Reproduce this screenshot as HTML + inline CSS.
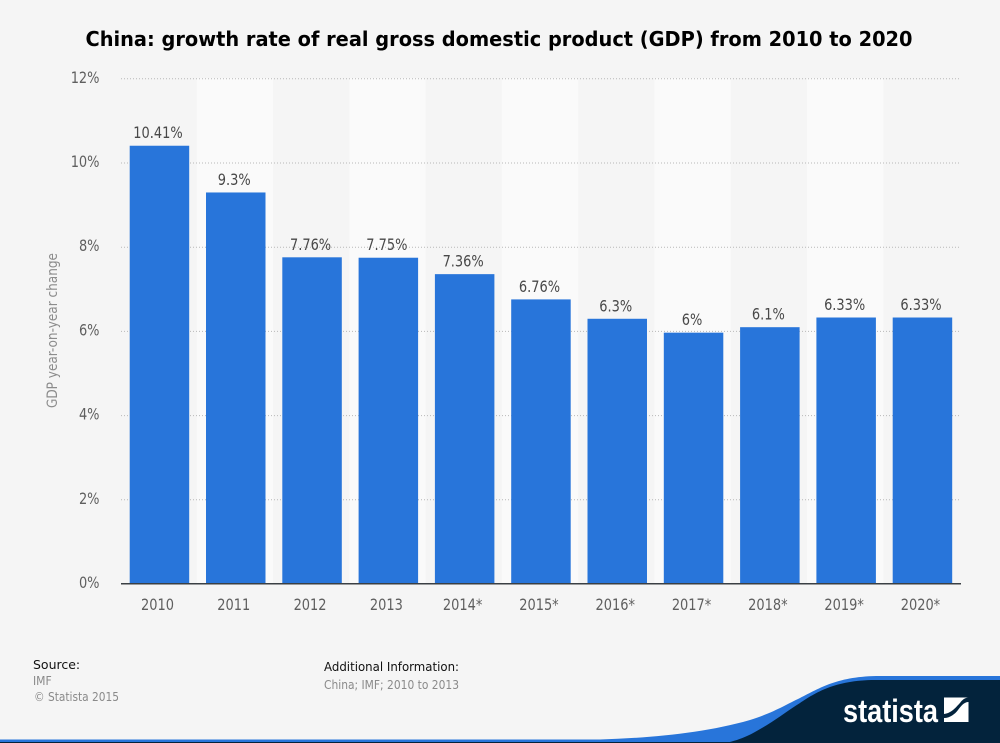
<!DOCTYPE html>
<html>
<head>
<meta charset="utf-8">
<style>
html,body{margin:0;padding:0;background:#f5f5f5}
svg{display:block}
text{font-family:"DejaVu Sans Condensed","DejaVu Sans","Liberation Sans",sans-serif;font-stretch:condensed}
</style>
</head>
<body>
<svg id="chart" xmlns="http://www.w3.org/2000/svg" width="1000" height="743" viewBox="0 0 1000 743">
<rect x="0" y="0" width="1000" height="743" fill="#f5f5f5"/>
<text x="499" y="46" text-anchor="middle" font-size="20.5" font-weight="700" fill="#000" style="font-family:'DejaVu Sans',sans-serif;font-stretch:normal" textLength="827" lengthAdjust="spacingAndGlyphs">China: growth rate of real gross domestic product (GDP) from 2010 to 2020</text>
<g id="bands"></g>
<g id="grid"></g>
<g id="bars"></g>
<g id="labels"></g>
<g id="yticks"></g>
<g id="xticks"></g>
<line x1="121" x2="961" y1="583.8" y2="583.8" stroke="#3a3f44" stroke-width="1.5"/>
<text transform="translate(57,330.5) rotate(-90)" text-anchor="middle" font-size="14" fill="#8c8c8c" textLength="155" lengthAdjust="spacingAndGlyphs">GDP year-on-year change</text>

<text x="33" y="669" font-size="12.5" fill="#111" style="font-family:'DejaVu Sans',sans-serif;font-stretch:normal">Source:</text>
<text x="33" y="685" font-size="12" fill="#8a8a8a">IMF</text>
<text x="34" y="701" font-size="12" fill="#8a8a8a" style="font-family:'DejaVu Sans',sans-serif;font-stretch:normal" textLength="85" lengthAdjust="spacingAndGlyphs">© Statista 2015</text>
<text x="324" y="671" font-size="12.5" fill="#111" style="font-family:'DejaVu Sans',sans-serif;font-stretch:normal" textLength="135" lengthAdjust="spacingAndGlyphs">Additional Information:</text>
<text x="324" y="689" font-size="12" fill="#8a8a8a" style="font-family:'DejaVu Sans',sans-serif;font-stretch:normal" textLength="135" lengthAdjust="spacingAndGlyphs">China; IMF; 2010 to 2013</text>

<g>
<path d="M0,743 L0,739.5 L600,739.5 C650,738 705,733 750,720 C775,712 785,705 800,698 C820,688 838,676 880,676 L1000,676 L1000,743 Z" fill="#2875da"/>
<path d="M725,743 C745,739 755,732 767,725 C780,717 790,709 800,703 C815,693 835,680 875,680 L1000,680 L1000,743 Z" fill="#03233c"/>
<rect x="0" y="742" width="1000" height="1" fill="#03233c"/>
<text x="843" y="722" font-size="32" font-weight="700" fill="#fff" textLength="95" lengthAdjust="spacingAndGlyphs" style="font-family:'Liberation Sans',sans-serif;font-stretch:normal">statista</text>
<g>
<rect x="944" y="697.5" width="24.5" height="24.5" fill="#fff"/>
<path d="M944,714 C952,713 956,707 960,703 C962,700 965,697.5 968.5,697.5 L968.5,702 C964,702 961,706 958,710 C955,714 950,718 944,718 Z" fill="#03233c"/>
</g>
</g>
</svg>
<script>
const categories = ["2010","2011","2012","2013","2014*","2015*","2016*","2017*","2018*","2019*","2020*"];
const seriesValues = [10.41,9.3,7.76,7.75,7.36,6.76,6.3,5.97,6.1,6.33,6.33];
const valueLabels = ["10.41%","9.3%","7.76%","7.75%","7.36%","6.76%","6.3%","6%","6.1%","6.33%","6.33%"];
const yTickValues = [0,2,4,6,8,10,12];
const yTickLabels = ["0%","2%","4%","6%","8%","10%","12%"];

const NS = "http://www.w3.org/2000/svg";
const plotLeft = 120.4, plotRight = 961, plotBottom = 584, plotTop = 78.8;
const yMax = 12;
const step = 76.3;
const barWidth = 59.5;
const barOffset = 0.9;
function yScale(v){ return plotBottom - (v / yMax) * (plotBottom - plotTop); }
function xBand(i){ return plotLeft + i * step; }
function xCenter(i){ return xBand(i) + step / 2 + barOffset; }
function make(tag, attrs, parent, text){
  const el = document.createElementNS(NS, tag);
  for (const k in attrs) el.setAttribute(k, attrs[k]);
  if (text !== undefined) el.textContent = text;
  parent.appendChild(el);
  return el;
}
function squeeze(el){
  el.setAttribute("textLength", el.getComputedTextLength() * 0.9);
  el.setAttribute("lengthAdjust", "spacingAndGlyphs");
}
const bandsG = document.getElementById("bands");
const gridG = document.getElementById("grid");
const barsG = document.getElementById("bars");
const labelsG = document.getElementById("labels");
const yG = document.getElementById("yticks");
const xG = document.getElementById("xticks");

categories.forEach(function(c, i){
  if (i % 2 === 1) {
    const band = make("rect", {x: xBand(i), y: 78, width: step, height: 506, fill: "#fafafa"}, bandsG);
    
    
  }
});
yTickValues.forEach(function(v, i){
  const y = yScale(v);
  if (v !== 0) {
    const line = make("line", {x1: 121, x2: plotRight, y1: y, y2: y, stroke: "#b8b8b8", "stroke-width": 1, "stroke-dasharray": "1 2"}, gridG);
    
    
  }
  const t = make("text", {x: 99.5, y: y + 4, "text-anchor": "end", "font-size": 16, fill: "#5f5f5f"}, yG, yTickLabels[i]);
  
  
  squeeze(t);
});
categories.forEach(function(c, i){
  const v = seriesValues[i];
  const y = yScale(v);
  const bar = make("rect", {x: xCenter(i) - barWidth / 2, y: y, width: barWidth, height: plotBottom - y, fill: "#2875da"}, barsG);
  
  
  const lab = make("text", {x: xCenter(i) - 1.5, y: y - 7.5, "text-anchor": "middle", "font-size": 16, fill: "#484848"}, labelsG, valueLabels[i]);
  
  
  squeeze(lab);
  const tick = make("text", {x: xCenter(i) - 2, y: 610, "text-anchor": "middle", "font-size": 16, fill: "#5f5f5f"}, xG, c);
  
  
  squeeze(tick);
});
</script>
</body>
</html>
